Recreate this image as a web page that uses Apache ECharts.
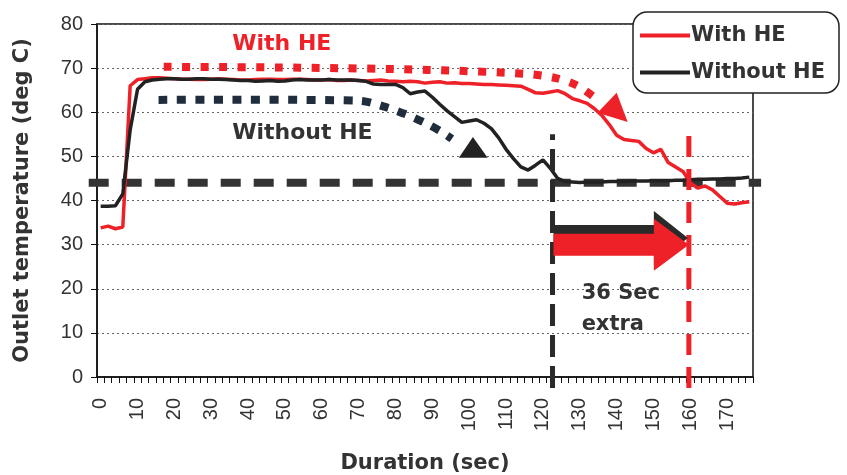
<!DOCTYPE html>
<html><head><meta charset="utf-8">
<script src="https://cdn.jsdelivr.net/npm/echarts@6/dist/echarts.min.js"></script>
<style>html,body{margin:0;padding:0;background:#fff}#c{width:847px;height:475px}</style>
</head><body><div id="c"></div>
<script>
// ---- data ----
const secs = [0,2,4,6,8,10,12,14,16,18,20,22,24,26,28,30,32,34,36,38,40,42,44,46,48,50,52,54,56,58,60,62,64,66,68,70,72,74,76,78,80,82,84,86,88,90,92,94,96,98,100,102,104,106,108,110,112,114,116,118,120,122,124,126,128,130,132,134,136,138,140,142,144,146,148,150,152,154,156,158,160,162,164,166,168,170,172,174,176];
const withHE = [33.8,34.2,33.6,34.0,66.0,67.4,67.6,67.8,67.8,67.7,67.6,67.5,67.5,67.4,67.4,67.5,67.6,67.5,67.4,67.3,67.3,67.4,67.5,67.5,67.4,67.4,67.5,67.5,67.4,67.3,67.3,67.4,67.2,67.2,67.3,67.2,67.1,67.2,67.3,67.1,67.0,66.9,67.0,66.9,66.6,66.8,66.9,66.6,66.7,66.5,66.5,66.4,66.3,66.3,66.2,66.1,66.0,65.9,65.2,64.4,64.3,64.6,64.9,64.2,63.1,62.6,62.0,60.8,59.3,57.2,54.8,53.8,53.6,53.4,51.8,50.8,51.6,48.6,47.6,46.6,44.0,42.8,43.3,42.4,40.9,39.4,39.2,39.5,39.7];
const withoutHE = [38.7,38.7,38.8,41.5,56.0,65.2,66.9,67.3,67.5,67.6,67.6,67.5,67.5,67.6,67.6,67.5,67.5,67.4,67.3,67.2,67.2,67.0,67.1,67.2,67.0,67.1,67.3,67.4,67.3,67.3,67.3,67.4,67.3,67.3,67.3,67.2,67.0,66.4,66.3,66.3,66.3,65.6,64.2,64.6,64.8,63.4,61.8,60.3,59.0,57.7,58.0,58.3,57.5,56.3,54.2,51.6,49.5,47.6,46.9,48.0,49.2,47.3,45.0,44.3,44.2,44.1,44.2,44.2,44.2,44.3,44.3,44.3,44.4,44.4,44.4,44.5,44.5,44.5,44.6,44.6,44.7,44.8,44.8,44.9,44.9,45.0,45.0,45.1,45.3];
const xLabelValues = [0,10,20,30,40,50,60,70,80,90,100,110,120,130,140,150,160,170];
const seriesNames = ['With HE','Without HE'];
// annotation anchors (data units)
const targetTemp = 44;
const cutoffWithout = 122.6;
const cutoffWith = 159.6;

const RED = '#ee2128', BLK = '#222222', TXT = '#333333';
const BOLD = 'DejaVu Sans';
const NUM = 'Liberation Sans';

const xTicks = secs.map(s => s - 1).concat([177]);
const pair = arr => secs.map((s, i) => [s, arr[i]]);

const chart = echarts.init(document.getElementById('c'), null, {renderer: 'canvas'});
chart.setOption({
  animation: false,
  backgroundColor: '#fff',
  grid: {left: 97, right: 94, top: 24, bottom: 98, outerBoundsMode: 'none', containLabel: false,
         show: true, borderColor: '#111', borderWidth: 1.5, backgroundColor: 'transparent'},
  legend: {
    orient: 'vertical', left: 633, top: 12,
    data: seriesNames.map(n => ({name: n, icon: 'rect'})),
    itemWidth: 50, itemHeight: 4, itemGap: 16,
    padding: [13, 14, 10, 7],
    backgroundColor: '#fff', borderColor: '#222', borderWidth: 1.5, borderRadius: 14,
    textStyle: {fontFamily: BOLD, fontWeight: 'bold', fontSize: 21, color: TXT, padding: [0, 0, 0, -4]},
    z: 10
  },
  xAxis: {
    type: 'value', min: -1, max: 177,
    name: 'Duration (sec)', nameLocation: 'middle', nameGap: 76, nameMoveOverlap: false,
    nameTextStyle: {fontFamily: BOLD, fontWeight: 'bold', fontSize: 21, color: TXT},
    axisLine: {show: true, onZero: false, lineStyle: {color: '#111', width: 1.5}},
    axisTick: {show: true, length: 6, lineStyle: {color: '#111'}, customValues: xTicks},
    axisLabel: {rotate: 90, margin: 21, fontFamily: NUM, fontSize: 20, color: TXT, customValues: xLabelValues},
    splitLine: {show: false}
  },
  yAxis: {
    type: 'value', min: 0, max: 80, interval: 10,
    name: 'Outlet temperature (deg C)', nameLocation: 'middle', nameGap: 64, nameMoveOverlap: false,
    nameTextStyle: {fontFamily: BOLD, fontWeight: 'bold', fontSize: 21, color: TXT},
    axisLine: {show: true, onZero: false, lineStyle: {color: '#111', width: 1.5}},
    axisTick: {show: true, length: 6, lineStyle: {color: '#111'}},
    axisLabel: {margin: 14, fontFamily: NUM, fontSize: 20, color: TXT},
    splitLine: {show: true, lineStyle: {color: '#666', width: 1, type: [2, 3]}}
  },
  series: [
    {name: seriesNames[0], type: 'line', data: pair(withHE), showSymbol: false, symbol: 'none',
     lineStyle: {color: RED, width: 3.5}, itemStyle: {color: RED}, z: 3},
    {name: seriesNames[1], type: 'line', data: pair(withoutHE), showSymbol: false, symbol: 'none',
     lineStyle: {color: BLK, width: 3.5}, itemStyle: {color: BLK}, z: 4}
  ]
});

const P = (x, y) => chart.convertToPixel({gridIndex: 0}, [x, y]);
const pts = arr => arr.map(p => P(p[0], p[1]));

// target line
const h1 = P(-3.25, targetTemp), h2 = P(179.2, targetTemp);
// cut-off verticals
const vb1 = P(cutoffWithout, -2.5), vb2 = P(cutoffWithout, 55);
const vr1 = P(cutoffWith, -2.5), vr2 = P(cutoffWith, 55);
// arrows
const xs = P(cutoffWithout, 0)[0] + 1, xe = P(cutoffWith, 0)[0];
const yr = P(0, 30)[1], yb = P(0, 31.5)[1];
const redArrow = [[xs, yr-11],[xe-35, yr-11],[xe-35, yr-26],[xe, yr],[xe-35, yr+26],[xe-35, yr+11],[xs, yr+11]];
const blkArrow = [[xs, yb-13],[xe-35, yb-13],[xe-35, yb-27],[xe-1, yb],[xe-35, yb+27],[xe-35, yb+13],[xs, yb+13]];
// dotted curved pointers
const redDots = pts([[17.1,70.3],[54.1,70.1],[89.1,69.6],[115.1,68.7],[123.2,67.8],[129.4,66.0],[134.8,62.8]]);
const redHead = pts([[134.8,59.9],[140,64.4],[143,57.8]]);
const blkDots = pts([[15.7,62.8],[70.4,62.6],[77.2,61.2],[82.6,59.6],[88,57.6],[92,55.8],[95.3,54.0]]);
const blkHead = pts([[97.2,49.7],[101,54.4],[105,49.7]]);

const txt = (x, y, text, color, size) => {
  const p = P(x, y);
  return {type: 'text', x: p[0], y: p[1], z: 20,
    style: {text, fill: color, font: 'bold ' + size + 'px "' + BOLD + '"', textAlign: 'left', textVerticalAlign: 'middle'}};
};

chart.setOption({
  graphic: [
    {type: 'line', z: 1, shape: {x1: h1[0], y1: h1[1], x2: h2[0], y2: h2[1]},
     style: {stroke: '#333', lineWidth: 8, lineDash: [20, 13]}},
    {type: 'line', z: 15, shape: {x1: vb1[0], y1: vb1[1], x2: vb2[0], y2: vb2[1]},
     style: {stroke: '#2a2a2a', lineWidth: 5, lineDash: [22, 9]}},
    {type: 'line', z: 15, shape: {x1: vr1[0], y1: vr1[1], x2: vr2[0], y2: vr2[1]},
     style: {stroke: RED, lineWidth: 5, lineDash: [21, 12]}},
    {type: 'polygon', z: 16, shape: {points: blkArrow}, style: {fill: '#2a2a2a'}},
    {type: 'polygon', z: 17, shape: {points: redArrow}, style: {fill: RED}},
    {type: 'polyline', z: 12, shape: {points: redDots, smooth: 0.3}, style: {stroke: RED, lineWidth: 8, lineDash: [8, 10.5], fill: null}},
    {type: 'polygon', z: 12, shape: {points: redHead}, style: {fill: RED}},
    {type: 'polyline', z: 12, shape: {points: blkDots, smooth: 0.3}, style: {stroke: '#1f2d3d', lineWidth: 8, lineDash: [9, 9.5], fill: null}},
    {type: 'polygon', z: 12, shape: {points: blkHead}, style: {fill: '#222'}},
    txt(35.7, 75.5, 'With HE', RED, 22),
    txt(35.7, 55.3, 'Without HE', TXT, 22),
    txt(130.5, 18.8, '36 Sec', TXT, 21),
    txt(130.5, 12.0, 'extra', TXT, 21)
  ]
});
</script></body></html>
